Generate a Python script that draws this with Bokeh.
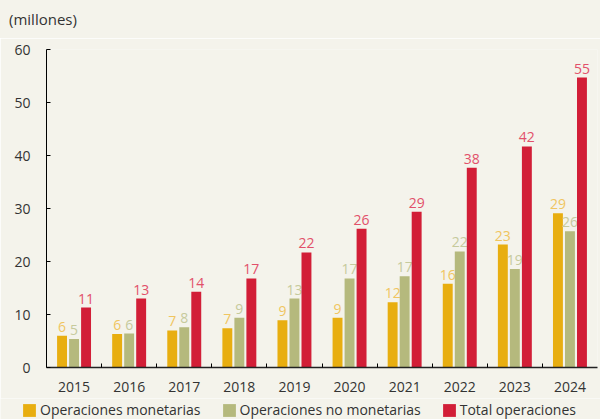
from bokeh.plotting import figure
from bokeh.layouts import column
from bokeh.models import (ColumnDataSource, Range1d, FixedTicker, Legend, LegendItem, Div)
from bokeh.transform import dodge
from bokeh.embed import file_html
from bokeh.resources import INLINE
from bokeh.core.properties import value

years = ["2015", "2016", "2017", "2018", "2019", "2020", "2021", "2022", "2023", "2024"]
monetarias = [6.0, 6.3, 7.0, 7.4, 8.9, 9.4, 12.3, 15.8, 23.2, 29.1]
no_monetarias = [5.4, 6.4, 7.6, 9.4, 13.0, 16.8, 17.2, 21.9, 18.6, 25.7]
total = [11.3, 13.0, 14.3, 16.8, 21.7, 26.2, 29.4, 37.7, 41.7, 54.7]
series_names = ["Operaciones monetarias", "Operaciones no monetarias", "Total operaciones"]
y_ticks = [0, 10, 20, 30, 40, 50, 60]
unit_text = "(millones)"

FONT = "Open Sans"
BG = "#F4F3EB"
bar_colors = ["#E8AE10", "#B5B97D", "#D21E37"]
label_colors = ["#F0C560", "#C6CA9C", "#E2506A"]

xpos = [i + 0.5 for i in range(len(years))]
src = ColumnDataSource(dict(
    x=xpos, m=monetarias, n=no_monetarias, t=total,
    ml=[f"{v:.0f}" for v in monetarias],
    nl=[f"{v:.0f}" for v in no_monetarias],
    tl=[f"{v:.0f}" for v in total],
))

# unit note above the chart
head = Div(text=unit_text, width=600, height=38, margin=(0, 0, 0, 0),
           styles={"background-color": BG, "font-family": FONT, "font-size": "15px",
                   "color": "#333333", "line-height": "38px", "padding-left": "9px",
                   "box-sizing": "border-box"})

p = figure(width=600, height=360, output_backend="svg", toolbar_location=None,
           x_range=Range1d(0, len(years)), y_range=Range1d(0, 60),
           min_border_left=46, min_border_right=3, min_border_top=11, min_border_bottom=31,
           background_fill_color=BG, border_fill_color=BG, outline_line_color=None)
p.frame_align = False

offs = [-0.218, 0.0, 0.218]
cols = ["m", "n", "t"]
lcols = ["ml", "nl", "tl"]
for off, c, lc, bc, tc in zip(offs, cols, lcols, bar_colors, label_colors):
    p.vbar(x=dodge("x", off, range=p.x_range), top=c, width=0.18, source=src,
           fill_color=bc, line_color=None)
    p.text(x=dodge("x", off, range=p.x_range), y=c, text=lc, source=src,
           text_align="center", text_baseline="bottom", y_offset=-4,
           text_font=value(FONT), text_font_size="14px", text_color=tc)

p.xgrid.grid_line_color = None
p.ygrid.grid_line_color = None

ya = p.yaxis[0]
ya.ticker = FixedTicker(ticks=y_ticks)
ya.major_tick_in = 4
ya.major_tick_out = 0
ya.minor_tick_line_color = None
ya.axis_line_color = "black"
ya.major_tick_line_color = "black"
ya.major_label_text_font = FONT
ya.major_label_text_font_size = "14px"
ya.major_label_text_color = "#333333"
ya.major_label_standoff = 16

xa = p.xaxis[0]
xa.ticker = FixedTicker(ticks=xpos, minor_ticks=list(range(1, len(years))))
xa.major_label_overrides = {x: y for x, y in zip(xpos, years)}
xa.major_tick_line_color = None
xa.minor_tick_in = 4
xa.minor_tick_out = 0
xa.minor_tick_line_color = "black"
xa.axis_line_color = "#222222"
xa.axis_line_width = 1.5
xa.major_label_text_font = FONT
xa.major_label_text_font_size = "14px"
xa.major_label_text_color = "#333333"
xa.major_label_standoff = 8

# legend strip below the chart (proxy bars lie outside its visible y range)
lg = figure(width=600, height=21, output_backend="svg", toolbar_location=None,
            x_axis_location=None, y_axis_location=None,
            x_range=Range1d(0, len(years)), y_range=Range1d(100, 101),
            min_border_left=0, min_border_right=0, min_border_top=0, min_border_bottom=0,
            background_fill_color=BG, border_fill_color=BG, outline_line_color=None)
lg.frame_align = False
lg.grid.visible = False
leg_renderers = [lg.vbar(x="x", top=c, width=0.18, source=src, fill_color=bc, line_color=None)
                 for c, bc in zip(cols, bar_colors)]
legend = Legend(items=[LegendItem(label=n, renderers=[r]) for n, r in zip(series_names, leg_renderers)],
                orientation="horizontal", location=(21, 0),
                glyph_width=16, glyph_height=16, label_standoff=3, spacing=20,
                padding=0, margin=0, border_line_color=None, background_fill_alpha=0,
                label_text_font=FONT, label_text_font_size="14px", label_text_color="#333333",
                label_height=16)
lg.add_layout(legend, "center")

open("out.html", "w").write(file_html(column(head, p, lg, spacing=0), INLINE))
